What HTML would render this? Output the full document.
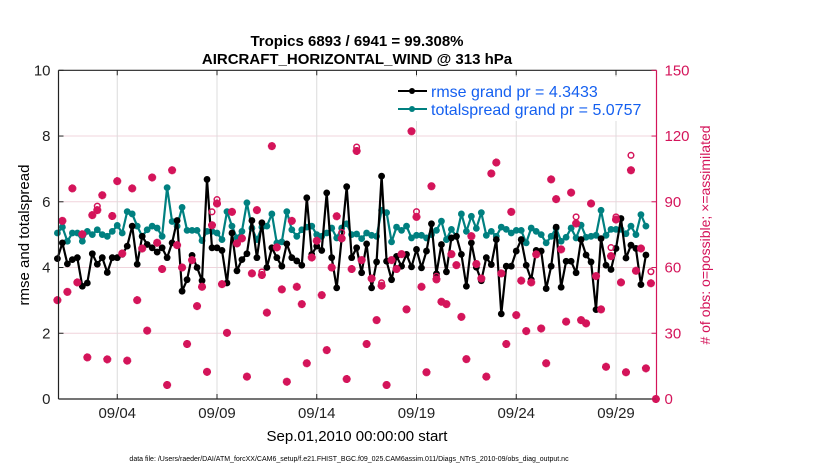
<!DOCTYPE html>
<html><head><meta charset="utf-8">
<style>
html,body{margin:0;padding:0;background:#fff;}
svg{display:block;font-family:"Liberation Sans",Arial,sans-serif;}
</style></head>
<body>
<svg id="chart" width="830" height="470" viewBox="0 0 830 470" xmlns="http://www.w3.org/2000/svg">
<g id="grid"></g>
<g id="marks"></g>
<g id="axes"></g>
<text x="357" y="46" font-size="15" font-weight="bold" text-anchor="middle">Tropics 6893 / 6941 = 99.308%</text>
<text x="357" y="64" font-size="15" font-weight="bold" text-anchor="middle">AIRCRAFT_HORIZONTAL_WIND @ 313 hPa</text>
<text transform="translate(29,235) rotate(-90)" font-size="15" text-anchor="middle">rmse and totalspread</text>
<text transform="translate(710,235) rotate(-90)" font-size="14" fill="#d4145a" text-anchor="middle"># of obs: o=possible; ×=assimilated</text>
<text x="357" y="441" font-size="15" text-anchor="middle">Sep.01,2010 00:00:00 start</text>
<text x="349" y="461" font-size="7" text-anchor="middle">data file: /Users/raeder/DAI/ATM_forcXX/CAM6_setup/f.e21.FHIST_BGC.f09_025.CAM6assim.011/Diags_NTrS_2010-09/obs_diag_output.nc</text>
<g id="legend">
  <rect x="391" y="77" width="262" height="44" fill="#fff"/>
  <line x1="398" y1="91" x2="427" y2="91" stroke="#000" stroke-width="2"/>
  <circle cx="412" cy="91" r="3" fill="#000"/>
  <text x="431" y="97" font-size="16" fill="#1560f0">rmse grand pr = 4.3433</text>
  <line x1="398" y1="109" x2="427" y2="109" stroke="#008080" stroke-width="2"/>
  <circle cx="412" cy="109" r="3" fill="#008080"/>
  <text x="431" y="115" font-size="16" fill="#1560f0">totalspread grand pr = 5.0757</text>
</g>
</svg>
<script>
const tickLabels = ["09/04","09/09","09/14","09/19","09/24","09/29"];
const tickDays = [3,8,13,18,23,28];
const leftTicks = [0,2,4,6,8,10];
const rightTicks = [0,30,60,90,120,150];
const rmse = [4.27,4.75,4.11,4.24,4.3,3.43,3.53,4.42,4.1,4.3,3.85,4.3,4.3,4.4,4.65,5.26,4.1,4.95,4.7,4.6,4.47,4.6,4.3,4.75,5.43,3.28,3.63,4.37,4.0,3.6,6.68,
4.6,4.6,4.52,3.53,5.05,3.9,4.24,4.42,5.43,4.3,5.36,4.0,4.6,4.3,4.04,4.72,4.3,4.2,4.07,6.12,4.4,4.65,4.52,6.27,4.3,3.38,4.9,6.46,4.3,4.6,
3.84,4.72,3.38,4.17,6.78,4.19,3.63,4.34,4.04,4.4,4.02,4.55,3.99,4.5,5.33,3.81,4.7,3.87,4.9,4.95,4.4,3.43,4.75,4.01,3.6,4.3,4.09,4.85,2.59,
4.04,4.04,4.5,4.85,4.07,3.63,4.52,4.5,3.36,4.04,5.23,3.4,4.19,4.19,3.84,4.85,4.38,4.17,2.72,4.88,4.07,3.94,4.58,5.49,4.29,4.68,4.58,3.48,4.38];
const spread = [5.05,5.23,4.8,5.05,5.05,4.8,5.1,5.0,5.15,5.0,4.95,5.1,5.28,5.05,5.7,5.63,5.26,4.95,5.15,5.26,5.2,4.95,6.43,5.4,5.26,5.83,5.13,5.13,5.13,4.82,5.1,
5.1,5.05,4.85,5.7,5.26,4.9,5.1,5.97,5.2,4.85,5.23,5.26,5.63,4.75,4.78,5.7,5.15,4.95,5.15,5.23,5.26,5.0,4.95,5.05,5.2,4.9,5.2,5.33,5.0,5.02,
4.88,5.05,4.98,4.95,5.74,5.67,4.78,5.23,5.13,5.26,4.9,4.98,4.98,4.9,5.0,5.13,5.41,4.85,5.16,4.95,5.63,5.1,5.56,5.19,5.67,4.98,5.1,4.95,5.23,
5.16,5.05,5.13,5.13,4.75,5.2,5.1,5.0,4.75,4.95,5.2,4.8,4.92,5.2,4.9,5.29,4.92,4.95,4.98,5.74,4.98,5.16,5.16,5.16,5.03,5.26,5.0,5.61,5.26];
const assimilated = [45.1,81.3,48.9,96.1,53.2,75.2,19,83.9,86.2,93,18.1,83.5,99.4,66.4,17.5,96.1,45.1,68.7,31.2,101.1,71.3,59.3,6.4,104.4,70.2,60,25.1,63.4,42.4,51.2,12.4,
79.3,89.2,52.4,30.2,85.4,71,73.3,10.2,57.3,86.2,56.6,39.4,115.4,69.2,50,7.9,81.3,51.2,43.3,16.3,64.6,72.2,47.4,22.3,60,83.4,73.3,9.1,59.3,113.2,
63.4,25.1,55,36,51.7,6.4,63.4,59.3,66.1,40.9,122.2,83.1,51.2,12.2,97.1,54.6,44.4,43.3,66.1,61.1,37.5,18.2,74.3,61.6,55,10.2,102.9,107.9,57.3,25.1,
85.4,38.3,54,31,53.2,66,32.2,16.3,100.2,91.2,68.3,35.3,94.2,80.1,36,34.5,89.2,56.1,40.9,14.7,65.2,81.9,53.2,12.2,104.4,58.5,68.7,14,52.8,0];
const possible = [45.1,81.3,48.9,96.1,53.2,75.2,19,83.9,88,93,18.1,83.5,99.4,66.4,17.5,96.1,45.1,68.7,31.2,101.1,71.3,59.3,6.4,104.4,70.2,60,25.1,63.4,42.4,51.2,12.4,
85.4,91,52.4,30.2,85.4,71,73.3,10.2,57.3,86.2,58,39.4,115.4,69.2,50,7.9,81.3,51.2,43.3,16.3,64.6,72.2,47.4,22.3,60,83.4,76,9.1,59.3,115,
63.4,25.1,55,36,53,6.4,63.4,59.3,66.1,40.9,122.2,85.5,51.2,12.2,97.1,56,44.4,43.3,66.1,61.1,37.5,18.2,74.3,61.6,55,10.2,102.9,107.9,57.3,25.1,
85.4,38.3,54,31,53.2,66,32.2,16.3,100.2,91.2,68.3,35.3,94.2,83.1,36,34.5,89.2,56.1,40.9,14.7,69.1,83.1,53.2,12.2,111.2,58.5,68.7,14,58.1,0];

const NS = "http://www.w3.org/2000/svg";
const X0 = 58.5, X1 = 656.5, Y0 = 399, Y1 = 70.3;
const dayPx = 19.95, dayOrigin = 57.4;
function xScale(t){ return dayOrigin + dayPx*t; }
function yL(v){ return Y0 - (Y0-Y1)*v/10; }
function yR(v){ return Y0 - (Y0-Y1)*v/150; }
function tOf(i){ return i*0.25; }
function mk(tag, attrs, parent){ const e=document.createElementNS(NS,tag); for(const k in attrs) e.setAttribute(k,attrs[k]); parent.appendChild(e); return e; }
const grid=document.getElementById('grid'), marks=document.getElementById('marks'), axes=document.getElementById('axes');

leftTicks.forEach(v=>{
  if(v>0 && v<10){ const g=mk('line',{x1:X0,x2:X1,y1:yL(v),y2:yL(v),stroke:'#f0d4dc','stroke-width':1},grid);
    }
});
tickDays.forEach(d=>{
  const g=mk('line',{x1:xScale(d),x2:xScale(d),y1:Y1,y2:Y0,stroke:'#dcdcdc','stroke-width':1},grid);
   
});

function series(arr,color,name){
  const pts=arr.map((v,i)=>xScale(tOf(i)).toFixed(1)+','+yL(v).toFixed(1)).join(' ');
  const l=mk('polyline',{points:pts,fill:'none',stroke:color,'stroke-width':2.2,'stroke-linejoin':'round'},marks);
   
  arr.forEach((v,i)=>{
    const c=mk('circle',{cx:xScale(tOf(i)),cy:yL(v),r:3.4,fill:color},marks);
     
  });
}
series(spread,'#008080','totalspread');
series(rmse,'#000','rmse');

// pink obs (drawn on top)
assimilated.forEach((c,i)=>{
  const x=xScale(tOf(i));
  const ring=mk('circle',{cx:x,cy:yR(possible[i]),r:2.8,fill:'none',stroke:'#d4145a','stroke-width':1.5},marks);
   
  const y=yR(c), s=4;
  const st=mk('path',{d:`M${x-s} ${y}H${x+s}M${x} ${y-s}V${y+s}M${x-s*0.7} ${y-s*0.7}L${x+s*0.7} ${y+s*0.7}M${x-s*0.7} ${y+s*0.7}L${x+s*0.7} ${y-s*0.7}`,stroke:'#d4145a','stroke-width':2.6,fill:'none'},marks);
   
});

// axes frame
let a=mk('line',{x1:X0,x2:X0,y1:Y1,y2:Y0,stroke:'#222','stroke-width':1.2},axes);
 
a=mk('line',{x1:X0,x2:X1,y1:Y0,y2:Y0,stroke:'#222','stroke-width':1.2},axes);
 
a=mk('line',{x1:X0,x2:X1,y1:Y1,y2:Y1,stroke:'#222','stroke-width':1.2},axes);
 
a=mk('line',{x1:X1,x2:X1,y1:Y1,y2:Y0,stroke:'#d4145a','stroke-width':1.2},axes);
 

leftTicks.forEach(v=>{
  const t=mk('text',{x:X0-8,y:yL(v)+5,'font-size':15,'text-anchor':'end',fill:'#222'},axes);
  t.textContent=v;
   
  const k=mk('line',{x1:X0,x2:X0+5,y1:yL(v),y2:yL(v),stroke:'#222'},axes);
   
});
rightTicks.forEach(v=>{
  const t=mk('text',{x:X1+8,y:yR(v)+5,'font-size':15,fill:'#d4145a'},axes);
  t.textContent=v;
   
  const k=mk('line',{x1:X1-5,x2:X1,y1:yR(v),y2:yR(v),stroke:'#d4145a'},axes);
   
});
tickDays.forEach((d,i)=>{
  const t=mk('text',{x:xScale(d),y:418,'font-size':15,'text-anchor':'middle',fill:'#222'},axes);
  t.textContent=tickLabels[i];
   
  const k=mk('line',{x1:xScale(d),x2:xScale(d),y1:Y0-5,y2:Y0,stroke:'#222'},axes);
   
  const k2=mk('line',{x1:xScale(d),x2:xScale(d),y1:Y1,y2:Y1+5,stroke:'#222'},axes);
   
});
</script>
</body></html>
